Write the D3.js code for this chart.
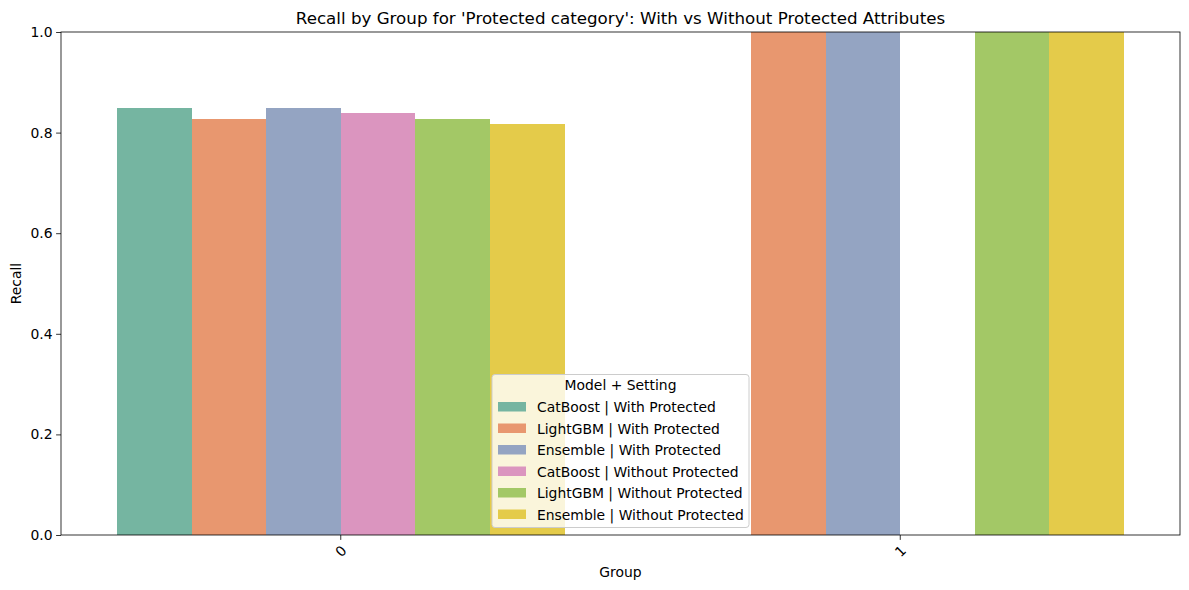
<!DOCTYPE html>
<html><head><meta charset="utf-8">
<script src="https://cdn.jsdelivr.net/npm/d3@7/dist/d3.min.js"></script>
<style>body{margin:0;background:#fff;} text{font-family:"DejaVu Sans",sans-serif;fill:#000;}</style>
</head><body><svg id="c" width="1189" height="590"></svg>
<script>
const groups = ["0", "1"];
const series = ["CatBoost | With Protected","LightGBM | With Protected","Ensemble | With Protected","CatBoost | Without Protected","LightGBM | Without Protected","Ensemble | Without Protected"];
// values per series: [group0, group1]; null = no bar
const catboostWith = [0.849, null];
const lightgbmWith = [0.827, 1.0];
const ensembleWith = [0.849, 1.0];
const catboostWithout = [0.839, null];
const lightgbmWithout = [0.827, 1.0];
const ensembleWithout = [0.817, 1.0];
const values = [catboostWith, lightgbmWith, ensembleWith, catboostWithout, lightgbmWithout, ensembleWithout];
const yTicks = [0, 0.2, 0.4, 0.6, 0.8, 1.0];

const svg = d3.select("#c");
const L = 61, R = 1180, T = 32, B = 535;
const x = d3.scaleBand().domain(groups).range([L, R]).padding(0);
const inner = d3.scaleBand().domain(series).range([0, x.bandwidth()*0.8]);
const y = d3.scaleLinear().domain([0, 1]).range([B, T]);

// desaturated seaborn Set2-like fill
const fills = ["#75b5a1","#e8976f","#94a4c2","#db95bf","#a3c866","#e4cb4a"];

const g = svg.append("g").attr("shape-rendering","crispEdges");
series.forEach((s, i) => {
  g.selectAll(null).data(groups.map((gr, j) => ({gr, v: values[i][j]})).filter(d => d.v !== null))
    .enter().append("rect")
    .attr("x", d => x(d.gr) + x.bandwidth()*0.1 + inner(s))
    .attr("width", inner.bandwidth())
    .attr("y", d => y(d.v))
    .attr("height", d => B - y(d.v))
    .attr("fill", fills[i]);
});

// axes
const ya = svg.append("g").attr("transform", `translate(${L},0)`)
  .call(d3.axisLeft(y).tickValues(yTicks).tickFormat(d3.format(".1f")).tickSize(4.9).tickPadding(3.5));
ya.select(".domain").remove();
ya.selectAll("text").style("font-size","13.9px").attr("fill","#000");
ya.selectAll("line").attr("stroke","#000").attr("stroke-width",0.8);

const xa = svg.append("g").attr("transform", `translate(0,${B})`)
  .call(d3.axisBottom(x).tickSize(4.9).tickPadding(3.5));
xa.select(".domain").remove();
xa.selectAll("line").attr("stroke","#000").attr("stroke-width",0.8);
xa.selectAll("text").style("font-size","13.9px").attr("fill","#000")
  .attr("text-anchor","middle").attr("dy",null)
  .attr("transform", "translate(0,16) rotate(-45)")
  .attr("y", 0).attr("dominant-baseline","central");

svg.append("rect").attr("x",L).attr("y",T).attr("width",R-L).attr("height",B-T)
  .attr("fill","none").attr("stroke","#000").attr("stroke-width",0.8);

// labels
svg.append("text").attr("x",(L+R)/2).attr("y",24).attr("text-anchor","middle")
  .style("font-size","16.7px").text("Recall by Group for 'Protected category': With vs Without Protected Attributes");
svg.append("text").attr("x",(L+R)/2).attr("y",577).attr("text-anchor","middle")
  .style("font-size","13.9px").text("Group");
svg.append("text").attr("transform",`translate(21,${(T+B)/2}) rotate(-90)`).attr("text-anchor","middle")
  .style("font-size","13.9px").text("Recall");

// legend
const lg = svg.append("g");
lg.append("rect").attr("x",492).attr("y",374.5).attr("width",257).attr("height",153).attr("rx",3)
  .attr("fill","rgba(255,255,255,0.8)").attr("stroke","#cccccc").attr("stroke-width",1);
lg.append("text").attr("x",620.5).attr("y",390).attr("text-anchor","middle").style("font-size","13.9px").text("Model + Setting");
series.forEach((s, i) => {
  const yy = 402 + i*21.5;
  lg.append("rect").attr("x",498).attr("y",yy).attr("width",28).attr("height",9.5).attr("fill",fills[i]);
  lg.append("text").attr("x",537).attr("y",yy+10).style("font-size","13.9px").text(s);
});
</script></body></html>
